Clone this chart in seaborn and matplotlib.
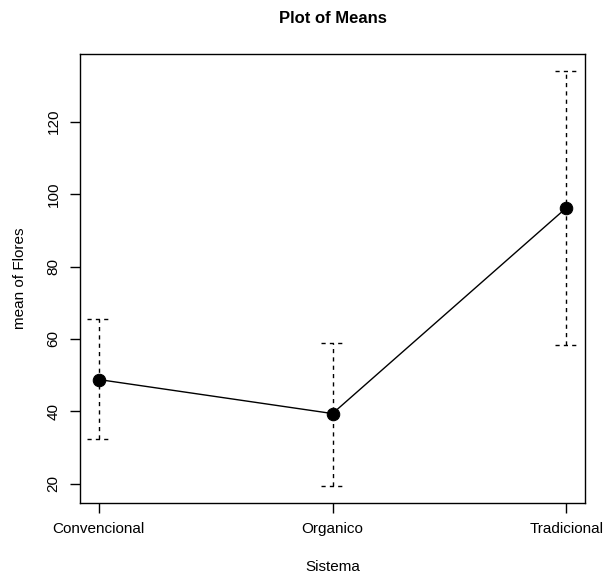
import matplotlib
matplotlib.use("Agg")
import matplotlib.pyplot as plt
import seaborn as sns
import pandas as pd

categories = ["Convencional", "Organico", "Tradicional"]
means = [48.8, 39.4, 96.2]
upper = [65.4, 58.9, 134.1]
lower = [32.3, 19.3, 58.4]
yticks = [20, 40, 60, 80, 100, 120]

sns.set_style("ticks", {"text.color": "black", "axes.labelcolor": "black",
                        "xtick.color": "black", "ytick.color": "black",
                        "axes.edgecolor": "black"})
plt.rcParams['font.family'] = ['Liberation Sans', 'DejaVu Sans']

df = pd.DataFrame({"Sistema": categories, "mean": means})

fig = plt.figure(figsize=(6.05, 5.8), dpi=100)
ax = fig.add_axes([80/605, 77/580, 505/605, 449/580])

xs = list(range(len(categories)))
ax.vlines(xs, lower, upper, colors="black", linestyles=(0, (3, 3)), linewidth=1)
cap = 0.05
for x, lo, hi in zip(xs, lower, upper):
    ax.hlines([lo, hi], x - cap, x + cap, colors="black", linestyles=(0, (3, 3)), linewidth=1)

sns.pointplot(data=df, x="Sistema", y="mean", color="black", errorbar=None,
              markers="o", linestyles="-", ax=ax, linewidth=1, markersize=9)

ax.set_xlim(-0.08, 2.08)
ax.set_ylim(14.7, 138.7)
ax.set_yticks(yticks)
ax.set_yticklabels([str(v) for v in yticks], rotation=90, va="center")
ax.tick_params(axis="both", length=7, width=1, labelsize=11, color="black",
               labelcolor="black", pad=7)
for s in ax.spines.values():
    s.set_visible(True)
    s.set_color("black")
    s.set_linewidth(1)
ax.set_xlabel("Sistema", fontsize=11, labelpad=17, color="black")
ax.set_ylabel("mean of Flores", fontsize=11, labelpad=14, color="black")
ax.set_title("Plot of Means", fontsize=12, fontweight="bold", pad=22, color="black")

fig.savefig("out.png", dpi=100, facecolor="white")
